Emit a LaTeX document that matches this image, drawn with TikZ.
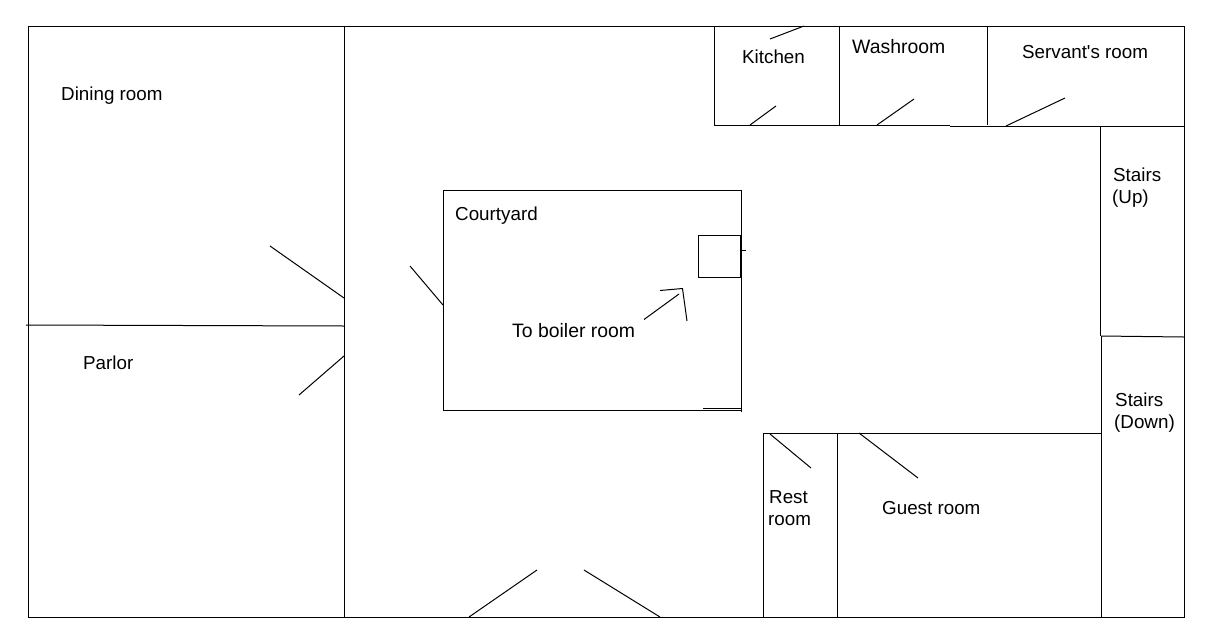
\documentclass[tikz,border=0pt]{standalone}
\usepackage{fontspec}
\setmainfont{Liberation Sans}[Ligatures=TeXOff]
\tikzset{
  wall/.style={line width=1pt, black},
  roomlabel/.style={inner sep=0pt, align=left, font=\fontsize{18.8}{22}\selectfont, text=black},
  widelabel/.style={roomlabel, font=\fontsize{19.4}{22}\selectfont},
}
\begin{document}
\begin{tikzpicture}[x=1pt, y=-1pt]
\useasboundingbox (0,0) rectangle (1211,638);
% outer walls
\draw[wall] (28,26) rectangle (1184,617);
% west rooms
\draw[wall] (344.5,26) -- (344.5,617);
\draw[wall] (26,325) -- (344.5,326);
% courtyard
\draw[wall] (443,190) rectangle (741,410);
\draw[wall] (741,410) -- (741,412);
\draw[wall] (698,235) rectangle (740.5,277);
\draw[line width=1.6pt] (740.5,235) -- (740.5,277);
\draw[wall] (741,250) -- (746,250);
\draw[wall] (703,408) -- (741,408);
% north rooms
\draw[wall] (714,26) -- (714,125) -- (950,125);
\draw[wall] (950,126) -- (1184,126);
\draw[wall] (839,26) -- (839,125);
\draw[wall] (987,26) -- (987,125);
% stairs
\draw[wall] (1100,126) -- (1100,336);
\draw[wall] (1101,336) -- (1101,617);
\draw[wall] (1101,336) -- (1184,337);
% south rooms
\draw[wall] (763.5,617) -- (763.5,433) -- (1101,433);
\draw[wall] (837,433) -- (837,617);
% doors
\draw[wall] (270,246) -- (344,298);
\draw[wall] (299,395) -- (344,356);
\draw[wall] (410,266) -- (443,305);
\draw[wall] (469,617) -- (537,570);
\draw[wall] (660,617) -- (584,570);
\draw[wall] (770,434) -- (811,468);
\draw[wall] (859,433) -- (918,478);
\draw[wall] (750,125) -- (776,106);
\draw[wall] (770,39) -- (804,26);
\draw[wall] (877,125) -- (914,99);
\draw[wall] (1006,126) -- (1065,98);
% arrow
\draw[wall] (644,319.5) -- (679,294);
\draw[wall] (660,290.5) -- (682.5,288.5) -- (687,321);
% labels
\node[roomlabel, anchor=base west] (dining) at (61,100.7) {Dining room};
\node[roomlabel, anchor=base west] (parlor) at (83,369.7) {Parlor};
\node[roomlabel, anchor=base west] (courtyard) at (455,220.7) {Courtyard};
\node[widelabel, anchor=base west] (boiler) at (512,337.7) {To boiler room};
\node[roomlabel, anchor=base west] (kitchen) at (742,63.7) {Kitchen};
\node[widelabel, anchor=base west] (washroom) at (852,53.7) {Washroom};
\node[roomlabel, anchor=base west] (servant) at (1022,58.7) {Servant's room};
\node[roomlabel, anchor=base west] (stairsup) at (1113,181.7) {Stairs};
\node[roomlabel, anchor=base west] (up) at (1112,203.7) {(Up)};
\node[roomlabel, anchor=base west] (stairsdown) at (1115,406.7) {Stairs};
\node[roomlabel, anchor=base west] (down) at (1114,428.7) {(Down)};
\node[roomlabel, anchor=base west] (rest) at (769,503.7) {Rest};
\node[roomlabel, anchor=base west] (room) at (768,525.7) {room};
\node[roomlabel, anchor=base west] (guest) at (882,514.7) {Guest room};
\end{tikzpicture}
\end{document}
